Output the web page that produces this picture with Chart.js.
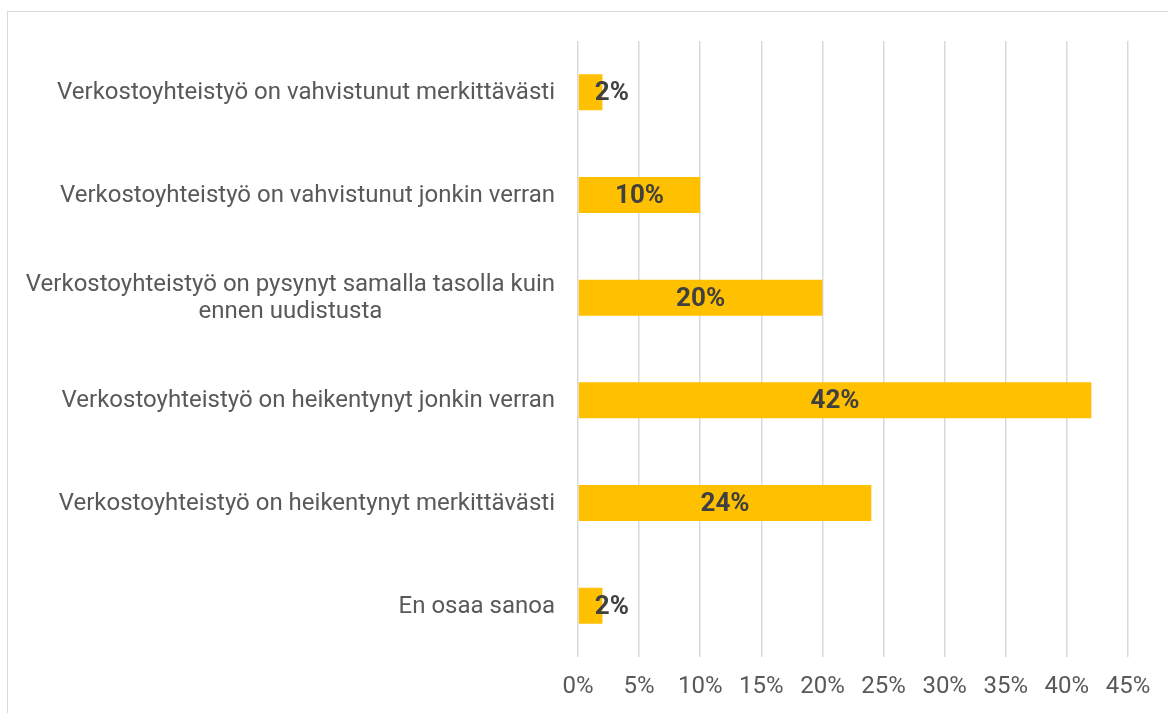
<!DOCTYPE html>
<html>
<head>
<meta charset="utf-8">
<script src="https://cdn.jsdelivr.net/npm/chart.js@4"></script>
<style>
  html, body { margin: 0; padding: 0; background: #fff; overflow: hidden; }
  #wrap { position: relative; width: 1168px; height: 713px; }
  #frame { position: absolute; left: 7px; top: 11px; width: 1200px; height: 800px; border: 1px solid #d9d9d9; box-sizing: border-box; }
  canvas { position: absolute; left: 0; top: 0; }
</style>
</head>
<body>
<div id="wrap">
  <div id="frame"></div>
  <canvas id="c" width="1168" height="713"></canvas>
</div>
<script>
const categories = [
  ["Verkostoyhteistyö on vahvistunut merkittävästi"],
  ["Verkostoyhteistyö on vahvistunut jonkin verran"],
  ["Verkostoyhteistyö on pysynyt samalla tasolla kuin", "ennen uudistusta"],
  ["Verkostoyhteistyö on heikentynyt jonkin verran"],
  ["Verkostoyhteistyö on heikentynyt merkittävästi"],
  ["En osaa sanoa"]
];
const values = [2, 10, 20, 42, 24, 2];
const xTicks = [0, 5, 10, 15, 20, 25, 30, 35, 40, 45];

const FONT = 'Roboto, "Noto Sans", sans-serif';

const labelPlugin = {
  id: 'customLabels',
  afterDatasetsDraw(chart) {
    const ctx = chart.ctx;
    const meta = chart.getDatasetMeta(0);
    const yScale = chart.scales.y;
    // bar value labels
    ctx.save();
    ctx.font = 'bold 26px ' + FONT;
    ctx.fillStyle = '#404040';
    ctx.textBaseline = 'middle';
    ctx.textAlign = 'center';
    meta.data.forEach((bar, i) => {
      const txt = values[i] + '%';
      const w = ctx.measureText(txt).width;
      const left = bar.base;
      const center = (bar.base + bar.x) / 2;
      const cx = Math.max(center, left + 16 + w / 2);
      ctx.fillText(txt, cx, bar.y + 1.5);
    });
    ctx.restore();
    // category labels (multi-line centered, block right-aligned)
    ctx.save();
    ctx.font = '24px ' + FONT;
    ctx.fillStyle = '#595959';
    ctx.textBaseline = 'middle';
    ctx.textAlign = 'center';
    const rightEdge = chart.chartArea.left - 23;
    const lh = 27;
    categories.forEach((lines, i) => {
      const y = yScale.getPixelForValue(i);
      const maxW = Math.max(...lines.map(l => ctx.measureText(l).width));
      const cx = rightEdge - maxW / 2;
      const y0 = y - (lines.length - 1) * lh / 2;
      lines.forEach((l, j) => ctx.fillText(l, cx, y0 + j * lh + 1));
    });
    ctx.restore();
  }
};

new Chart(document.getElementById('c'), {
  type: 'bar',
  data: {
    labels: categories,
    datasets: [{
      data: values,
      backgroundColor: '#FFC000',
      borderWidth: 0,
      barPercentage: 0.35,
      categoryPercentage: 1.0
    }]
  },
  options: {
    indexAxis: 'y',
    responsive: false,
    animation: false,
    devicePixelRatio: 1,
    layout: { padding: { top: 41, right: 40, left: 0, bottom: 0 } },
    plugins: { legend: { display: false }, tooltip: { enabled: false } },
    scales: {
      x: {
        min: 0, max: 45,
        afterBuildTicks: s => { s.ticks = xTicks.map(v => ({ value: v })); },
        afterFit: s => { s.height = 56; },
        grid: { color: '#d9d9d9', lineWidth: 1.5, drawTicks: false },
        border: { display: false },
        ticks: {
          padding: 16,
          color: '#595959',
          font: { family: FONT, size: 24 },
          callback: v => v + '%'
        }
      },
      y: {
        afterFit: s => { s.width = 578; },
        grid: { display: false, drawTicks: false },
        border: { display: false },
        ticks: { display: false }
      }
    }
  },
  plugins: [labelPlugin]
});
</script>
</body>
</html>
